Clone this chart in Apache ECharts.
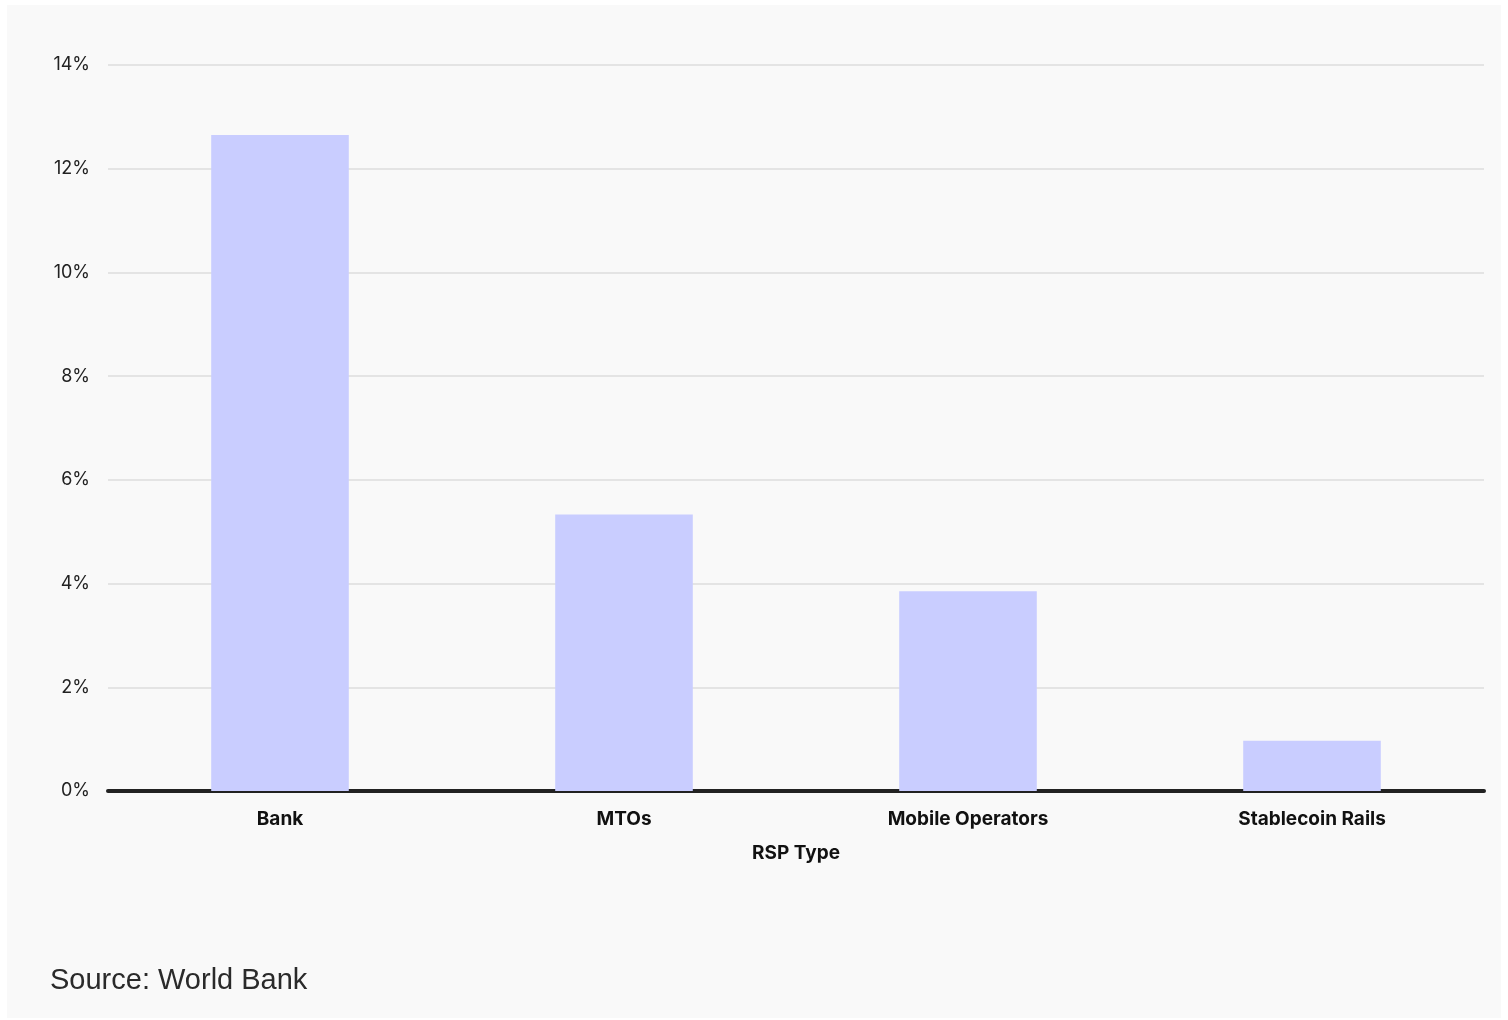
<!DOCTYPE html>
<html>
<head>
<meta charset="utf-8">
<script src="https://cdn.jsdelivr.net/npm/echarts@6/dist/echarts.min.js"></script>
<style>
  html, body { margin: 0; padding: 0; background: #ffffff; }
  #panel { position: absolute; left: 7px; top: 5px; width: 1494px; height: 1013px; background: #f9f9f9; }
  #chart { position: absolute; left: 0; top: 0; width: 1508px; height: 1020px; }
</style>
</head>
<body>
<div id="panel"></div>
<div id="chart"></div>
<script>
// Share of remittance cost by service provider type
const categories = ['Bank', 'MTOs', 'Mobile Operators', 'Stablecoin Rails'];
const costValues = [12.65, 5.33, 3.85, 0.97];
const yTicks = [0, 2, 4, 6, 8, 10, 12, 14];

const chart = echarts.init(document.getElementById('chart'));
chart.setOption({
  backgroundColor: 'transparent',
  animation: false,
  grid: { left: 108, right: 24, top: 65, bottom: 229, containLabel: false },
  xAxis: {
    type: 'category',
    data: categories,
    name: 'RSP Type',
    nameLocation: 'middle',
    nameGap: 53,
    nameTextStyle: { fontFamily: 'Inter', fontWeight: 'bold', fontSize: 19, color: '#111' },
    axisLine: { lineStyle: { color: '#222', width: 4 } },
    axisTick: { show: false },
    axisLabel: { fontFamily: 'Inter', fontWeight: 'bold', fontSize: 19, color: '#111', margin: 19 }
  },
  yAxis: {
    type: 'value',
    min: yTicks[0],
    max: yTicks[yTicks.length - 1],
    interval: 2,
    axisLine: { show: false },
    axisTick: { show: false },
    splitLine: { lineStyle: { color: '#e4e4e4', width: 2 } },
    axisLabel: { fontFamily: 'Inter', fontSize: 18, color: '#222', margin: 18, formatter: v => v + '%' }
  },
  series: [{
    type: 'bar',
    data: costValues,
    barWidth: '40%',
    itemStyle: { color: '#c9cdff' },
    z: 1
  }],
  graphic: [{
    type: 'text',
    left: 50,
    top: 966,
    style: { text: 'Source: World Bank', fontFamily: 'Liberation Sans', fontSize: 29, fill: '#2a2a2a' }
  }]
});
</script>
</body>
</html>
